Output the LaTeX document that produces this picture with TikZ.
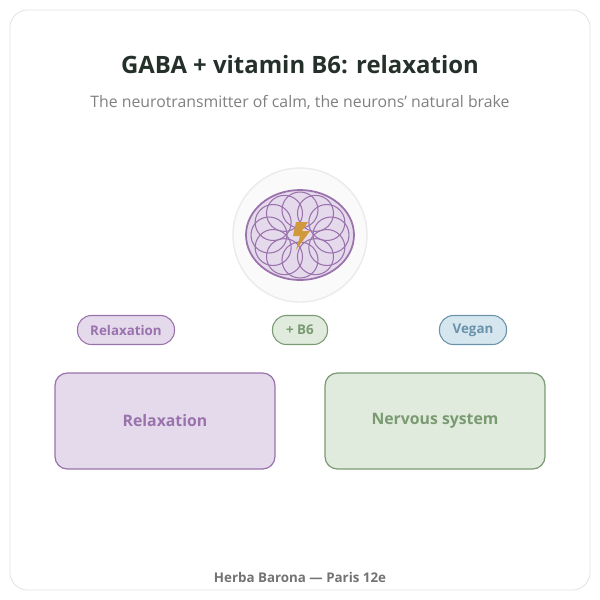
\documentclass[tikz,border=0pt]{standalone}
\usepackage{fontspec}
\setmainfont{Open Sans}
\definecolor{lilac}{HTML}{E5D9EC}
\definecolor{lilacd}{HTML}{9A72AC}
\definecolor{sage}{HTML}{E0EBDD}
\definecolor{saged}{HTML}{7A9A72}
\definecolor{sky}{HTML}{D6E6EF}
\definecolor{skyd}{HTML}{6A92AA}
\definecolor{bolt}{HTML}{D09A3C}
\definecolor{ink}{HTML}{25302B}
\tikzset{
  pill/.style={draw, rounded corners=7.9pt, line width=0.6pt, minimum height=0.58cm, font=\fontsize{7.6}{9}\selectfont\bfseries},
  box/.style={draw, rounded corners=7pt, line width=0.7pt, minimum width=4.4cm, minimum height=1.92cm, font=\fontsize{9}{11}\selectfont\bfseries}
}
\begin{document}
\begin{tikzpicture}[x=0.02cm,y=-0.02cm]
  \useasboundingbox (0,0) rectangle (600,600);
  % carte
  \draw[black!12, fill=white, rounded corners=10pt] (10,10) rectangle (590,590);

  % titres
  \node (title) at (300,65) {\fontsize{13.6}{16}\selectfont\bfseries\color{ink}GABA + vitamin B6: relaxation};
  \node (sub) at (300,102) {\fontsize{9}{11}\selectfont\color{black!50}The neurotransmitter of calm, the neurons' natural brake};

  % icone
  \draw[black!8, fill=black!2, line width=0.8pt] (300,235) circle [radius=67];
  \draw[lilacd, fill=lilac, line width=1pt] (300,235) ellipse [x radius=54, y radius=45];
  \begin{scope}
    \clip (300,235) ellipse [x radius=54, y radius=45];
    \foreach \a in {0,30,...,330}
      \draw[lilacd, line width=0.6pt] ({300+31*cos(\a)},{235+25*sin(\a)}) circle [radius=18];
  \end{scope}
  \fill[bolt] (296,222) -- (308,222) -- (302,231) -- (310,231) -- (296,250) -- (300,236) -- (293,236) -- cycle;

  % pastilles
  \node[pill, draw=lilacd, fill=lilac, text=lilacd, minimum width=1.94cm] (p1) at (126,330) {Relaxation};
  \node[pill, draw=saged, fill=sage, text=saged, minimum width=1.1cm] (p2) at (300,330) {+ B6};
  \node[pill, draw=skyd, fill=sky, text=skyd, minimum width=1.34cm] (p3) at (473,330) {Vegan};

  % cadres
  \node[box, draw=lilacd, fill=lilac, text=lilacd] (b1) at (165,421) {Relaxation};
  \node[box, draw=saged, fill=sage, text=saged] (b2) at (435,421) {Nervous system};

  \node (foot) at (300,577) {\fontsize{7.6}{9}\selectfont\bfseries\color{black!55}Herba Barona — Paris 12e};
\end{tikzpicture}
\end{document}
